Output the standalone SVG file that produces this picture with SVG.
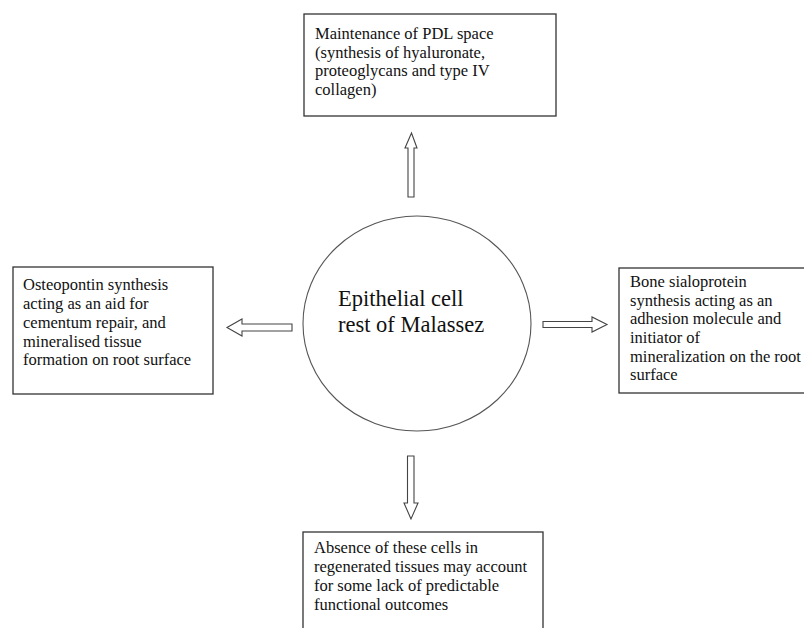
<svg xmlns="http://www.w3.org/2000/svg" width="804" height="628" viewBox="0 0 804 628">
<style>
.box{fill:#fff;stroke:#333;stroke-width:1.3}
.t{font-family:"Liberation Serif","Times New Roman",serif;font-size:16.5px;fill:#111}
.big{font-family:"Liberation Serif","Times New Roman",serif;font-size:22.5px;fill:#111}
.arr{fill:#fff;stroke:#444;stroke-width:1.1;stroke-linejoin:miter}
</style>
<rect width="804" height="628" fill="#fff"/>
<g id="connectors">
<path class="arr" d="M411.5,133 L417,148 L414,148 L414,197 L408,197 L408,148 L405,148 Z"/>
<path class="arr" d="M227,327.5 L242,319 L242,324 L292,324 L292,331 L242,331 L242,336 Z"/>
<path class="arr" d="M607,324.5 L592,317 L592,321.5 L543,321.5 L543,327.5 L592,327.5 L592,332 Z"/>
<path class="arr" d="M411,519 L404,503 L407.5,503 L407.5,456 L414,456 L414,503 L418,503 Z"/>
</g>
<g id="center">
<ellipse cx="417" cy="323.5" rx="114" ry="107.5" fill="#fff" stroke="#555" stroke-width="1.1"/>
<text class="big" x="338" y="306">Epithelial cell</text>
<text class="big" x="338" y="332">rest of Malassez</text>
</g>
<g id="top">
<rect class="box" x="304" y="14" width="252" height="102"/>
<text class="t" x="315" y="39">Maintenance of PDL space</text>
<text class="t" x="315" y="57.5">(synthesis of hyaluronate,</text>
<text class="t" x="315" y="76">proteoglycans and type IV</text>
<text class="t" x="315" y="94.5">collagen)</text>
</g>
<g id="left">
<rect class="box" x="13" y="267" width="200" height="127"/>
<text class="t" x="23" y="290">Osteopontin synthesis</text>
<text class="t" x="23" y="308.5">acting as an aid for</text>
<text class="t" x="23" y="327.5">cementum repair, and</text>
<text class="t" x="23" y="346.5">mineralised tissue</text>
<text class="t" x="23" y="365">formation on root surface</text>
</g>
<g id="right">
<rect class="box" x="619" y="268" width="200" height="125"/>
<text class="t" x="630" y="287">Bone sialoprotein</text>
<text class="t" x="630" y="305.5">synthesis acting as an</text>
<text class="t" x="630" y="324">adhesion molecule and</text>
<text class="t" x="630" y="343">initiator of</text>
<text class="t" x="630" y="361.5">mineralization on the root</text>
<text class="t" x="630" y="380">surface</text>
</g>
<g id="bottom">
<rect class="box" x="303" y="532" width="240" height="110"/>
<text class="t" x="314" y="553">Absence of these cells in</text>
<text class="t" x="314" y="572">regenerated tissues may account</text>
<text class="t" x="314" y="591">for some lack of predictable</text>
<text class="t" x="314" y="609.5">functional outcomes</text>
</g>
</svg>
